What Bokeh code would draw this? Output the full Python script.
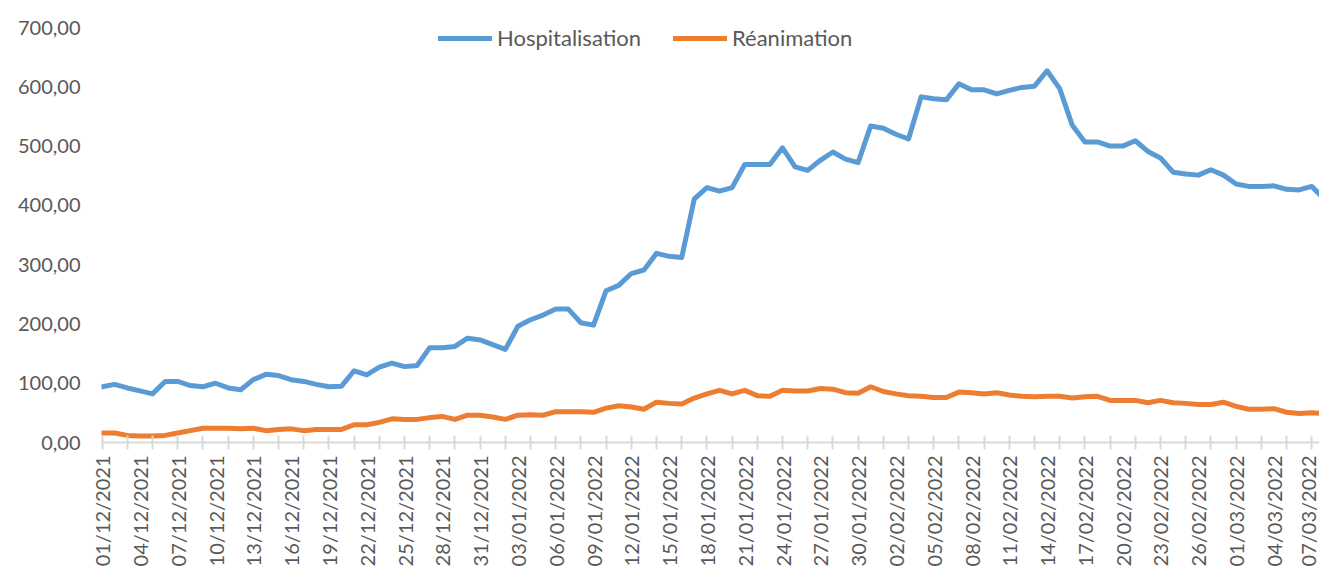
import math
import pandas as pd
from bokeh.plotting import figure
from bokeh.models import FixedTicker, Legend, LegendItem, Range1d, ColumnDataSource
from bokeh.embed import file_html
from bokeh.resources import INLINE

# Daily categories 01/12/2021 .. 08/03/2022
dates = pd.date_range("2021-12-01", periods=98, freq="D")
date_labels = [d.strftime("%d/%m/%Y") for d in dates]

hospitalisation = [
    94, 98, 92, 87, 82, 103, 103, 96, 94, 100,
    92, 89, 106, 115, 113, 106, 103, 98, 94, 95,
    121, 114, 127, 134, 128, 130, 160, 160, 162, 176,
    173, 165, 157, 196, 207, 215, 225, 225, 202, 198,
    256, 265, 285, 291, 319, 314, 312, 411, 430, 424,
    430, 469, 469, 469, 497, 465, 459, 476, 490, 478,
    472, 534, 530, 520, 512, 583, 580, 578, 605, 595,
    595, 588, 594, 599, 601, 627, 597, 535, 507, 507,
    500, 500, 509, 491, 480, 456, 453, 451, 460, 451,
    436, 432, 432, 433, 427, 426, 432, 411,
]
reanimation = [
    16, 16, 12, 11, 11, 12, 16, 20, 24, 24,
    24, 23, 24, 20, 22, 23, 20, 22, 22, 22,
    30, 30, 34, 40, 39, 39, 42, 44, 39, 46,
    46, 43, 39, 46, 47, 46, 52, 52, 52, 51,
    58, 62, 60, 56, 68, 66, 65, 75, 82, 88,
    82, 88, 79, 78, 88, 87, 87, 91, 90, 84,
    83, 94, 86, 82, 79, 78, 76, 76, 85, 84,
    82, 84, 80, 78, 77, 78, 78, 75, 77, 78,
    71, 71, 71, 67, 71, 67, 66, 64, 64, 68,
    61, 56, 56, 57, 51, 49, 50, 49,
]
y_ticks = [0, 100, 200, 300, 400, 500, 600, 700]
series_names = ["Hospitalisation", "Réanimation"]

TEXT = "#595959"
GRIDC = "#D9D9D9"
FONT = "Lato"

src = ColumnDataSource(dict(i=list(range(len(dates))), h=hospitalisation, r=reanimation))

p = figure(width=1319, height=572,
           x_range=Range1d(-0.05, 96.62), y_range=Range1d(0, 728.7),
           output_backend="svg", toolbar_location=None,
           min_border_left=101, min_border_right=0,
           min_border_top=10, min_border_bottom=130)
p.xgrid.visible = False
p.ygrid.visible = False
p.outline_line_color = None
p.background_fill_color = "white"

r1 = p.line(x="i", y="h", source=src, line_color="#5B9BD5", line_width=5,
            line_join="round", line_cap="round")
r2 = p.line(x="i", y="r", source=src, line_color="#ED7D31", line_width=5,
            line_join="round", line_cap="round")

label_idx = list(range(0, 97, 3))
xa = p.xaxis[0]
xa.ticker = FixedTicker(ticks=label_idx, minor_ticks=list(range(0, 98, 2)))
xa.major_label_overrides = {i: date_labels[i] for i in label_idx}
xa.major_label_orientation = math.pi / 2
xa.axis_line_color = GRIDC
xa.axis_line_width = 2
xa.major_tick_line_color = None
xa.major_tick_in = 0
xa.major_tick_out = 7
xa.minor_tick_line_color = GRIDC
xa.minor_tick_line_width = 2
xa.minor_tick_in = 7
xa.minor_tick_out = 7
xa.major_label_standoff = 6
xa.major_label_text_font = FONT
xa.major_label_text_font_size = "20px"
xa.major_label_text_color = TEXT

ya = p.yaxis[0]
ya.ticker = FixedTicker(ticks=y_ticks)
ya.major_label_overrides = {v: f"{v},00" for v in y_ticks}
ya.axis_line_color = None
ya.major_tick_line_color = None
ya.minor_tick_line_color = None
ya.major_tick_in = 0
ya.major_tick_out = 0
ya.major_label_standoff = 21
ya.major_label_text_font = FONT
ya.major_label_text_font_size = "20px"
ya.major_label_text_color = TEXT

legend = Legend(items=[LegendItem(label=series_names[0], renderers=[r1]),
                       LegendItem(label=series_names[1], renderers=[r2])],
                orientation="horizontal", location=(337, 391),
                glyph_width=54, glyph_height=24, label_height=24,
                label_standoff=5, spacing=32, padding=0, margin=0,
                border_line_color=None, background_fill_alpha=0,
                label_text_font=FONT, label_text_font_size="22px",
                label_text_color=TEXT)
p.add_layout(legend)

open("out.html", "w").write(file_html(p, INLINE))
